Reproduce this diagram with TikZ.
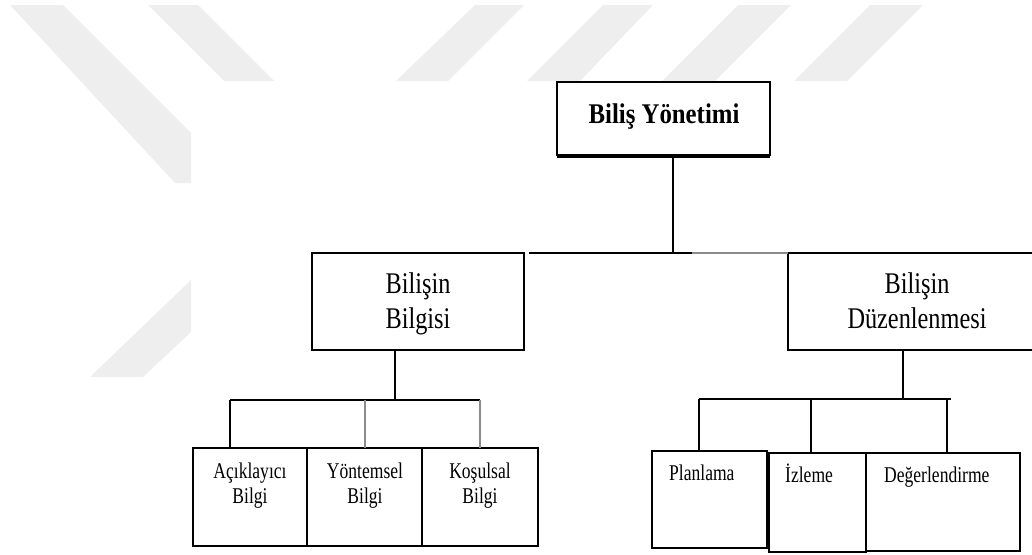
\documentclass[tikz,border=0pt]{standalone}
\usepackage{fontspec}
\setmainfont{Liberation Serif}
\newfontfamily\titleserif[FakeStretch=0.87]{Liberation Serif}
\newfontfamily\midserif[FakeStretch=0.81]{Liberation Serif}
\newfontfamily\smallserif[FakeStretch=0.78]{Liberation Serif}
\definecolor{wmgray}{RGB}{238,238,238}
\definecolor{linegray}{RGB}{140,140,140}
\begin{document}
\begin{tikzpicture}[x=1pt,y=-1pt,
  box/.style={draw=black, line width=1.8pt, rectangle, inner sep=0pt, outer sep=0pt, anchor=north west},
  conn/.style={line width=1.5pt, draw=black},
  conngray/.style={line width=1.5pt, draw=linegray},
  wm/.style={fill=wmgray, draw=none},
  titletext/.style={font=\titleserif\bfseries\fontsize{28.5}{32}\selectfont, anchor=base, inner sep=0pt},
  midtext/.style={font=\midserif\fontsize{30}{35}\selectfont, anchor=base, inner sep=0pt},
  smalltext/.style={font=\smallserif\fontsize{22.5}{25}\selectfont, anchor=base, inner sep=0pt}]
\path[use as bounding box] (0,0) rectangle (1032,554);
\clip (0,0) rectangle (1032,554);
% watermark stripes
\fill[wm] (10,5) -- (63,5) -- (191,133) -- (191,183) -- (175,183) -- cycle;
\fill[wm] (148,5) -- (198,5) -- (274,81) -- (224,81) -- cycle;
\fill[wm] (475,5) -- (524,5) -- (448,81) -- (396,81) -- cycle;
\fill[wm] (603,5) -- (653,5) -- (580,81) -- (527,81) -- cycle;
\fill[wm] (738,5) -- (791,5) -- (715,81) -- (662,81) -- cycle;
\fill[wm] (870,5) -- (923,5) -- (847,81) -- (794,81) -- cycle;
\fill[wm] (191,280) -- (191,332) -- (143,377) -- (90,377) -- cycle;
% boxes
\node[box, minimum width=213pt, minimum height=73pt] (T) at (557,82) {};
\draw[line width=3pt] ([yshift=-1pt]T.south west) -- ([yshift=-1pt]T.south east);
\node[box, minimum width=212pt, minimum height=97pt] (A) at (312,253) {};
\node[box, minimum width=258pt, minimum height=97pt] (B) at (788,253) {};
\node[box, minimum width=114pt, minimum height=98pt] (C1) at (193,448) {};
\node[box, minimum width=115pt, minimum height=98pt] (C2) at (307,448) {};
\node[box, minimum width=116pt, minimum height=98pt] (C3) at (422,448) {};
\node[box, minimum width=115pt, minimum height=97pt] (D1) at (652,451) {};
\node[box, minimum width=97pt, minimum height=99pt] (D2) at (769,453) {};
\node[box, minimum width=154pt, minimum height=98pt] (D3) at (866,453) {};
% texts
\node[titletext] (tT) at (664,123) {Biliş Yönetimi};
\node[midtext] (tA) at (418,293) {\begin{tabular}[t]{@{}c@{}}Bilişin\\Bilgisi\end{tabular}};
\node[midtext] (tB) at (917,293) {\begin{tabular}[t]{@{}c@{}}Bilişin\\Düzenlenmesi\end{tabular}};
\node[smalltext] (tC1) at (250,478) {\begin{tabular}[t]{@{}c@{}}Açıklayıcı\\Bilgi\end{tabular}};
\node[smalltext] (tC2) at (365,478) {\begin{tabular}[t]{@{}c@{}}Yöntemsel\\Bilgi\end{tabular}};
\node[smalltext] (tC3) at (480,478) {\begin{tabular}[t]{@{}c@{}}Koşulsal\\Bilgi\end{tabular}};
\node[smalltext, anchor=base west] (tD1) at (669,480) {Planlama};
\node[smalltext, anchor=base west] (tD2) at (785,482) {İzleme};
\node[smalltext, anchor=base west] (tD3) at (884,482) {Değerlendirme};
% connectors level 1
\coordinate (j1) at (673,253);
\coordinate (j0) at (529,253);
\coordinate (jg) at (692,253);
\draw[conn] (T.south -| j1) -- (j1);
\draw[conn] (j0) -- (jg);
\draw[conngray] (jg) -- (B.north west);
% connectors level 2 left
\coordinate (k1) at (395,400);
\coordinate (k0) at (230,400);
\coordinate (k2) at (365,400);
\coordinate (k3) at (480,400);
\draw[conn] (A.south -| k1) -- (k1);
\draw[conn] (k0) -- (k3);
\draw[conn] (k0) -- (k0 |- C1.north);
\draw[conngray] (k2) -- (k2 |- C2.north);
\draw[conngray] (k3) -- (k3 |- C3.north);
% connectors level 2 right
\coordinate (m1) at (903,399);
\coordinate (m0) at (699,399);
\coordinate (m2) at (811,399);
\coordinate (m3) at (947,399);
\coordinate (m4) at (951,399);
\draw[conn] (B.south -| m1) -- (m1);
\draw[conn] (m0) -- (m4);
\draw[conn] (m0) -- (m0 |- D1.north);
\draw[conn] (m2) -- (m2 |- D2.north);
\draw[conn] (m3) -- (m3 |- D3.north);
\end{tikzpicture}
\end{document}
